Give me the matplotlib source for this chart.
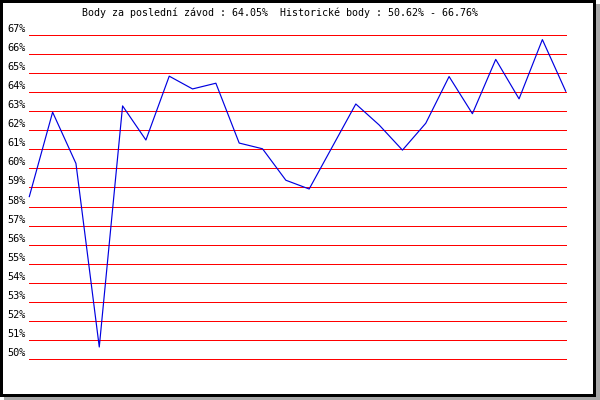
from __future__ import annotations

import matplotlib

matplotlib.use("Agg")
import matplotlib.pyplot as plt
from matplotlib.patches import Rectangle

# body per race, in percent
points = [
    58.52, 62.95, 60.26, 50.63, 63.28, 61.49, 64.84, 64.17,
    64.47, 61.33, 61.03, 59.38, 58.92, 61.15, 63.38, 62.28,
    60.96, 62.37, 64.82, 62.87, 65.72, 63.65, 66.76, 64.05,
]
grid_levels = list(range(50, 68))
tick_labels = [f"{v}%" for v in grid_levels]
title = "Body za poslední závod : 64.05%  Historické body : 50.62% - 66.76%"

W, H = 600, 400
MONO = "DejaVu Sans Mono"


def px_rect(fig, x0, y0, x1, y1, color, z):
    # rectangle given in top-down pixel coords
    rect = Rectangle(
        (x0 / W, 1 - y1 / H),
        (x1 - x0) / W,
        (y1 - y0) / H,
        transform=fig.transFigure,
        facecolor=color,
        edgecolor="none",
        zorder=z,
    )
    fig.add_artist(rect)


fig = plt.figure(figsize=(W / 100, H / 100), dpi=100, facecolor="white")

# frame with drop shadow
px_rect(fig, 4, 4, 600, 400, "#a8a8a8", -3)
px_rect(fig, 0, 0, 596, 397, "black", -2)
px_rect(fig, 3, 3, 593, 394, "white", -1)

ax = fig.add_axes([29.3 / W, 1 - 359 / H, (565.7 - 29.3) / W, (359 - 35) / H])
ax.set_facecolor("none")
ax.axis("off")
ax.set_xlim(0, len(points) - 1)
ax.set_ylim(grid_levels[0], grid_levels[-1])

for level, label in zip(grid_levels, tick_labels):
    ax.axhline(level, color="red", linewidth=0.72, antialiased=False,
               zorder=1, clip_on=False)
    ax.annotate(
        label,
        xy=(0, level),
        xycoords=ax.get_yaxis_transform(),
        xytext=(-3.5, 6),
        textcoords="offset pixels",
        ha="right",
        va="center",
        annotation_clip=False,
        family=MONO,
        size=7.4,
    )

ax.plot(range(len(points)), points, color="#0000e0", linewidth=0.85,
        zorder=2, clip_on=False)

fig.text(280 / W, 1 - 13 / H, title, ha="center", va="center",
         family=MONO, size=7.2)

fig.savefig("out.png", dpi=100)
plt.close(fig)
